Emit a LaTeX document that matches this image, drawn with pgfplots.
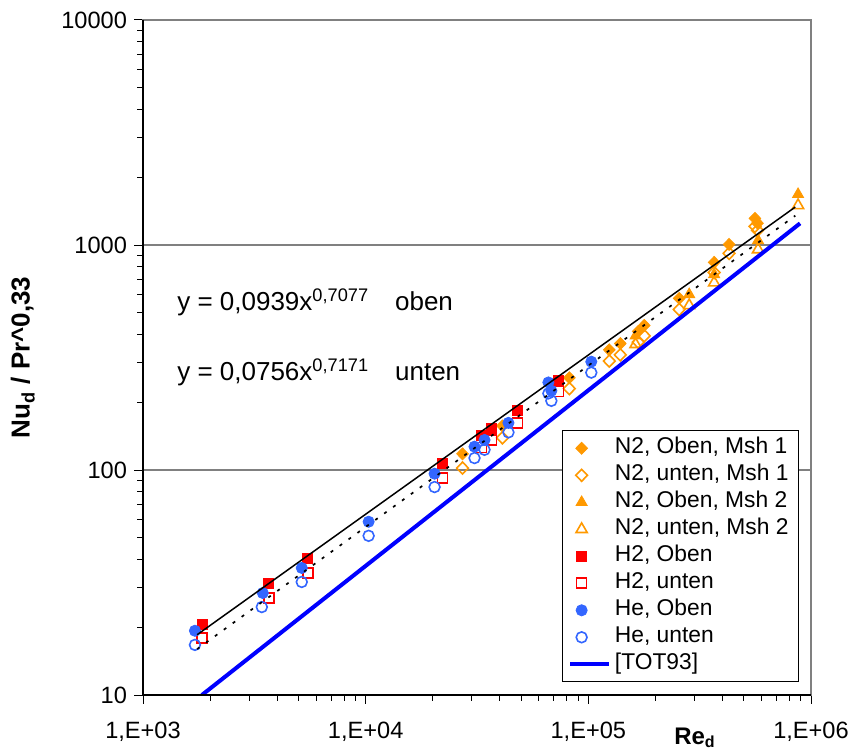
\documentclass[border=0pt]{standalone}
\usepackage{pgfplots}
\pgfplotsset{compat=1.18}
\usepackage{fontspec}
\setmainfont{Liberation Sans}
\definecolor{nor}{RGB}{255,153,0}
\definecolor{hred}{RGB}{255,0,0}
\definecolor{heb}{RGB}{51,102,255}
\definecolor{totb}{RGB}{0,0,255}
\begin{document}
\begin{tikzpicture}
\begin{axis}[
  name=ax,
  clip mode=individual,
  xmode=log, ymode=log,
  scale only axis, width=334pt, height=337.5pt,
  xmin=1000, xmax=1000000, ymin=10, ymax=10000,
  xtick={1000,10000,100000,1000000},
  xticklabels={{1,E+03},{1,E+04},{1,E+05},{1,E+06}},
  ytick={10,100,1000,10000},
  yticklabels={10,100,1000,10000},
  tick align=outside,
  major tick length=4.5pt, minor tick length=3pt,
  xtick pos=left, ytick pos=left,
  every tick/.style={black, line width=0.5pt},
  axis line style={draw=gray, line width=0.7pt},
  ymajorgrids, major grid style={gray, line width=0.7pt},
  tick label style={font=\fontsize{11.8}{13}\selectfont},
  xticklabel style={yshift=-5.5pt},
  ylabel={\textbf{Nu\textsubscript{d} / Pr\^{}0,33}},
  ylabel style={at={(axis description cs:-0.18,0.5)}, anchor=center, font=\fontsize{13}{15}\selectfont},
  legend style={at={(rel axis cs:0.982,0.019)}, anchor=south east, draw=black, fill=white,
     font=\fontsize{11.4}{13}\selectfont, row sep=0pt,
     nodes={text height=8.3pt, text depth=2.6pt, inner ysep=1.3pt}},
  legend cell align=left,
]
\addplot[only marks, color=nor, mark=diamond*, mark size=3pt, mark options={xscale=1.3, solid}] coordinates {
(27230,118) (41130,157) (82170,257) (124200,342) (139200,365) (167500,413) (178300,439) (255900,579) (367300,837) (428700,1006) (560000,1313) (575000,1250)};
\addlegendentry{N2, Oben, Msh 1}
\addplot[only marks, color=nor, mark=diamond, mark size=3pt, mark options={xscale=1.3, solid, line width=0.8pt}] coordinates {
(27230,102) (41130,139) (82170,230) (124200,305) (139200,325) (167500,370) (178300,395) (255900,517) (367300,755) (428700,918) (560000,1210) (575000,1161)};
\addlegendentry{N2, unten, Msh 1}
\addplot[only marks, color=nor, mark=triangle*, mark size=3.2pt, mark options={solid}] coordinates {
(163000,395) (283800,603) (367300,740) (578400,1048) (874700,1680)};
\addlegendentry{N2, Oben, Msh 2}
\addplot[only marks, color=nor, mark=triangle, mark size=3.2pt, mark options={solid, line width=0.8pt}] coordinates {
(163000,362) (283800,539) (367300,680) (578400,955) (874700,1500)};
\addlegendentry{N2, unten, Msh 2}
\addplot[only marks, color=hred, mark=square*, mark size=2.5pt, mark options={solid}] coordinates {
(1840,20.7) (3673,31.2) (5495,40.3) (22140,106.7) (33130,142) (36730,153) (48050,185) (73380,250)};
\addlegendentry{H2, Oben}
\addplot[only marks, color=hred, mark=square, mark size=2.5pt, mark options={solid, line width=0.8pt}] coordinates {
(1840,17.9) (3673,27.0) (5495,34.9) (22140,92.4) (33130,126) (36730,136) (48050,162) (73380,223)};
\addlegendentry{H2, unten}
\addplot[only marks, color=heb, mark=*, mark size=2.8pt, mark options={solid}] coordinates {
(1711,19.3) (3451,28.4) (5164,36.7) (10310,58.9) (20390,96.3) (30820,127) (34180,136) (43780,162) (66160,245) (68230,225) (103100,303)};
\addlegendentry{He, Oben}
\addplot[only marks, color=heb, mark=o, mark size=2.7pt, mark options={solid, line width=0.8pt}] coordinates {
(1711,16.7) (3417,24.6) (5164,31.8) (10310,51.0) (20390,84.0) (30820,113) (34180,123) (43780,147) (66160,219) (68230,203) (103100,271)};
\addlegendentry{He, unten}
\addplot[color=totb, line width=2pt, no marks, legend image code/.code={\draw[totb, line width=2pt] (0.1cm,0cm) -- (0.78cm,0cm);}] coordinates {
(1839,10) (893000,1248)};
\addlegendentry{[TOT93]}
% trend lines
\addplot[forget plot, black, line width=0.75pt, no marks] coordinates {(1750,18.53) (850000,1475)};
\addplot[forget plot, black, line width=0.85pt, no marks, dash pattern=on 1.5pt off 4pt] coordinates {(1750,16.0) (850000,1350)};
% black left and bottom axis lines
\draw[black, line width=0.7pt] (rel axis cs:0,1) -- (rel axis cs:0,0) -- (rel axis cs:1,0);
\node[anchor=base west, inner sep=0pt, font=\fontsize{13}{15}\selectfont] at (axis cs:1420,512) {y = 0,0939x\textsuperscript{0,7077}\hspace{1em}oben};
\node[anchor=base west, inner sep=0pt, font=\fontsize{13}{15}\selectfont] at (axis cs:1420,249.7) {y = 0,0756x\textsuperscript{0,7171}\hspace{1em}unten};
\end{axis}
\node[anchor=base, font=\bfseries\fontsize{12}{14}\selectfont] at ([shift={(276pt,-24.5pt)}]ax.south west) {Re\textsubscript{d}};
\pgfresetboundingbox
\useasboundingbox ([shift={(-71.5pt,-27pt)}]ax.south west) rectangle ([shift={(21.5pt,10pt)}]ax.north east);
\end{tikzpicture}
\end{document}
